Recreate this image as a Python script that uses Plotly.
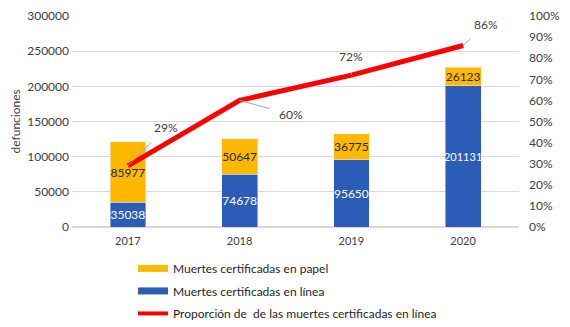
import plotly.graph_objects as go

years = ["2017", "2018", "2019", "2020"]
online = [35038, 74678, 95650, 201131]
paper = [85977, 50647, 36775, 26123]
share = [0.29, 0.60, 0.72, 0.86]
share_labels = ["29%", "60%", "72%", "86%"]

FONT = "Lato"
BLUE = "#2a5cb8"
ORANGE = "#ffb800"
RED = "#ff0000"

fig = go.Figure()
fig.add_trace(go.Bar(x=years, y=online, marker_color=BLUE, width=0.32,
                     text=[str(v) for v in online], textposition="inside",
                     insidetextanchor="middle", textangle=0, constraintext="none",
                     textfont=dict(color="white", size=[12, 12, 12, 11], family=FONT),
                     showlegend=False, hoverinfo="skip"))
fig.add_trace(go.Bar(x=years, y=paper, marker_color=ORANGE, width=0.32,
                     text=[str(v) for v in paper], textposition="inside",
                     insidetextanchor="middle", textangle=0, constraintext="none",
                     textfont=dict(color="#262626", size=12, family=FONT),
                     showlegend=False, hoverinfo="skip"))
fig.add_trace(go.Scatter(x=years, y=share, mode="lines", yaxis="y2",
                         line=dict(color=RED, width=5), showlegend=False))

# legend entries
fig.add_trace(go.Scatter(x=[years[0]], y=[None], mode="lines", line=dict(color=ORANGE, width=7),
                         name="Muertes certificadas en papel", legendrank=1, legendgroup="a"))
fig.add_trace(go.Scatter(x=[years[0]], y=[None], mode="lines", line=dict(color=BLUE, width=7),
                         name="Muertes certificadas en línea", legendrank=2, legendgroup="b"))
fig.add_trace(go.Scatter(x=[years[0]], y=[None], mode="lines", line=dict(color=RED, width=4),
                         name="Proporción de  de las muertes certificadas en línea",
                         legendrank=3, legendgroup="c"))

offsets = [(38, -38), (51, 14), (0, -19), (23, -21)]
for i, (y, t, (ax, ay)) in enumerate(zip(share, share_labels, offsets)):
    fig.add_annotation(x=i, y=y, xref="x", yref="y2", text=t, showarrow=True, arrowhead=0,
                       arrowcolor="#a6a6a6", arrowwidth=1, ax=ax, ay=ay,
                       font=dict(size=12, family=FONT, color="#404040"),
                       standoff=0, startstandoff=8)

fig.add_annotation(x=-0.1275, y=0.5, xref="paper", yref="paper", text="defunciones",
                   textangle=-90, showarrow=False, xanchor="center", yanchor="middle",
                   font=dict(size=12, family=FONT, color="#404040"))

fig.update_layout(
    width=562, height=319,
    margin=dict(l=64, r=51, t=8, b=100, autoexpand=False),
    barmode="stack",
    plot_bgcolor="white", paper_bgcolor="white",
    font=dict(family=FONT, size=12, color="#404040"),
    xaxis=dict(type="category", categoryorder="array", categoryarray=years,
               range=[-0.5, 3.5], showgrid=False, showline=False, ticks="",
               tickfont=dict(size=11), ticklabelstandoff=6),
    yaxis=dict(range=[0, 300000], dtick=50000, showgrid=True, gridcolor="#d9d9d9",
               zeroline=True, zerolinecolor="#d9d9d9", tickformat="d",
               tickfont=dict(size=12), ticklabelstandoff=2),
    yaxis2=dict(range=[0, 1], dtick=0.1, tickformat=".0%", overlaying="y", side="right",
                showgrid=False, zeroline=False, tickfont=dict(size=12), ticklabelstandoff=9),
    legend=dict(orientation="v", x=0.1365, y=0.229, xanchor="left", yanchor="top",
                yref="container", traceorder="grouped", tracegroupgap=3.5,
                font=dict(size=12, color="#262626"), itemwidth=30),
)

fig.write_html("out.html")
